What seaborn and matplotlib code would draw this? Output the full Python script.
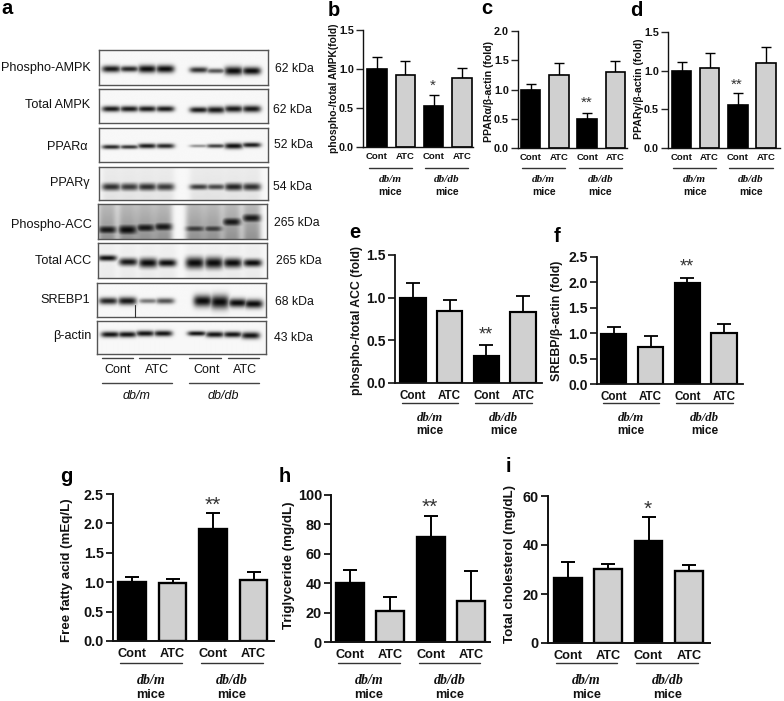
import numpy as np
import pandas as pd
import matplotlib
matplotlib.use("Agg")
import matplotlib.pyplot as plt
from matplotlib.lines import Line2D
import seaborn as sns

W, H = 784, 701

# bar values and the top of each error bar
conditions = ['db/m Cont', 'db/m ATC', 'db/db Cont', 'db/db ATC']
cond_labels = ['Cont', 'ATC', 'Cont', 'ATC']
treatments = ['Cont', 'ATC', 'Cont', 'ATC']

b_vals = [1.0, 0.92, 0.53, 0.88]
b_tops = [1.15, 1.10, 0.67, 1.01]
c_vals = [1.0, 1.25, 0.50, 1.30]
c_tops = [1.10, 1.46, 0.60, 1.49]
d_vals = [1.0, 1.04, 0.55, 1.10]
d_tops = [1.11, 1.23, 0.71, 1.31]
e_vals = [1.0, 0.84, 0.32, 0.83]
e_tops = [1.17, 0.97, 0.44, 1.02]
f_vals = [0.99, 0.73, 1.98, 1.00]
f_tops = [1.13, 0.94, 2.08, 1.18]
g_vals = [1.01, 0.98, 1.91, 1.04]
g_tops = [1.09, 1.06, 2.17, 1.17]
h_vals = [40, 21, 71.5, 28]
h_tops = [49, 30.5, 85.5, 48]
i_vals = [26.5, 30.3, 41.8, 29.2]
i_tops = [33, 32.3, 51.5, 32]

ticks_15 = [0.0, 0.5, 1.0, 1.5]
ticks_20 = [0.0, 0.5, 1.0, 1.5, 2.0]
ticks_25 = [0.0, 0.5, 1.0, 1.5, 2.0, 2.5]
ticks_100 = [0, 20, 40, 60, 80, 100]
ticks_60 = [0, 20, 40, 60]

# western blot: band row, half height and darkness per lane
blot_names = ['Phospho-AMPK', 'Total AMPK', 'PPARα', 'PPARγ', 'Phospho-ACC', 'Total ACC', 'SREBP1', 'β-actin']
blot_sizes = ['62 kDa', '62 kDa', '52 kDa', '54 kDa', '265 kDa', '265 kDa', '68 kDa', '43 kDa']
blot_rows = [
    [69, 69, 69, 69, 70, 71, 71, 71],
    [109, 109, 109, 109, 110, 110, 109, 109],
    [147, 147, 146, 146, 146, 146, 146, 145],
    [187, 187, 187, 187, 187, 187, 187, 187],
    [230, 230, 228, 227, 229, 229, 222, 218],
    [258, 262, 263, 263, 263, 263, 263, 263],
    [301, 301, 301, 301, 301, 302, 303, 304],
    [335, 335, 334, 334, 334, 335, 335, 336],
]
blot_half = [
    [3.5, 3, 4, 4, 3, 2.5, 4.5, 4],
    [3, 3, 3, 3, 3, 3.5, 3.5, 3.5],
    [2.2, 2, 2.5, 2.5, 1.5, 2, 3, 2.5],
    [4, 4, 4, 4, 3, 3, 4, 4],
    [5, 6, 5, 5, 4, 4, 5, 5],
    [3, 4, 5, 4, 6, 6, 5, 4],
    [3.5, 4, 2.5, 3, 6, 7, 4.5, 4.5],
    [3, 3, 3, 3, 2.5, 3, 3, 3.5],
]
blot_dark = [
    [0.95, 0.9, 1, 1, 0.85, 0.7, 1, 1],
    [0.95, 0.95, 0.95, 0.95, 0.95, 0.95, 0.95, 0.95],
    [0.9, 0.85, 0.95, 0.9, 0.45, 0.8, 1, 0.95],
    [0.85, 0.8, 0.85, 0.8, 0.8, 0.75, 0.9, 0.85],
    [0.95, 1, 0.95, 0.95, 0.8, 0.8, 0.95, 0.95],
    [1, 0.95, 1, 1, 1, 1, 1, 1],
    [0.9, 0.95, 0.55, 0.7, 1, 1, 1, 1],
    [0.95, 0.95, 0.95, 0.95, 0.95, 0.95, 0.95, 0.95],
]
blot_haze = [0.0, 0.0, 0.0, 0.08, 0.4, 0.05, 0.0, 0.0]

# blot frames in pixels: left, right, top, bottom and lane centres
blot_frames = [(99, 268, 50, 85), (99, 268, 89, 123), (99, 268, 128, 162), (99, 268, 167, 200),
               (98, 267, 204, 239), (98, 267, 243, 278), (97, 266, 283, 317), (97, 266, 321, 354)]
lanes_a = [111, 129, 147, 165, 199, 216, 234, 252]
lanes_acc = [107, 127, 145, 163, 195, 213, 232, 252]
lanes_tacc = [107, 128, 148, 167, 195, 214, 233, 253]
lanes_sre = [108, 127, 148, 165, 203, 220, 238, 254]
lanes_act = [110, 127, 145, 163, 197, 215, 233, 251]
blot_lanes = [lanes_a, lanes_a, lanes_a, lanes_a, lanes_acc, lanes_tacc, lanes_sre, lanes_act]
name_pos = [(91, 68), (90, 105), (88, 147), (90, 183), (92, 225), (91, 261), (90, 300), (92, 336)]
size_pos = [(275, 69), (273, 110), (274, 145), (273, 187), (274, 223), (276, 261), (275, 302), (274, 338)]

sns.set_style("ticks")
plt.rcParams['font.family'] = ['Liberation Sans', 'DejaVu Sans']

fig = plt.figure(figsize=(W / 100, H / 100), dpi=100)


def ftext(px, py, s, **kw):
    kw.setdefault('ha', 'center')
    kw.setdefault('va', 'center')
    kw.setdefault('color', '#111111')
    return fig.text(px / W, 1 - py / H, s, **kw)


def fline(x0, x1, py, color='#333333', lw=0.9):
    fig.add_artist(Line2D([x0 / W, x1 / W], [1 - py / H, 1 - py / H], color=color, lw=lw))


def draw_blot(frame, lanes, rows, half, dark, haze):
    x0, x1, y0, y1 = frame
    xx, yy = np.meshgrid(np.arange(x0, x1 + 1), np.arange(y0, y1 + 1))
    img = np.full(xx.shape, 0.97)
    for lx, ly, hh, dd in zip(lanes, rows, half, dark):
        across = np.exp(-((xx - lx) / 9.5) ** 4)
        img = img - haze * across * (0.6 + 0.4 * (yy - y0) / (y1 - y0))
        band = dd * across * np.exp(-((yy - ly) / hh) ** 2)
        img = np.minimum(img, 0.97 - 0.93 * band)
    ax = fig.add_axes([x0 / W, 1 - y1 / H, (x1 - x0) / W, (y1 - y0) / H])
    ax.imshow(np.clip(img, 0, 1), cmap='gray', vmin=0, vmax=1, aspect='auto',
              interpolation='bilinear', extent=[x0, x1, y1, y0])
    ax.set_xticks([])
    ax.set_yticks([])
    for sp in ax.spines.values():
        sp.set_color('#555555')
        sp.set_linewidth(1.0)
    return ax


def draw_panel(box, c0, step, vals, tops, ymax, yticks, ylabel, label_pos, label_size,
               tick_size, cont_size, lw, star=None, group=None):
    spine_x, right_x, top_y, bot_y = box
    ax = fig.add_axes([spine_x / W, 1 - bot_y / H, (right_x - spine_x) / W, (bot_y - top_y) / H])
    df = pd.DataFrame({'condition': conditions, 'value': vals, 'treatment': treatments})
    errs = [t - v for t, v in zip(tops, vals)]
    ax.errorbar(range(4), vals, yerr=[[0] * 4, errs], fmt='none', ecolor='black',
                elinewidth=lw, capsize=step * 0.13, capthick=lw, zorder=1)
    sns.barplot(data=df, x='condition', y='value', hue='treatment', dodge=False,
                palette={'Cont': 'black', 'ATC': '#D0D0D0'}, edgecolor='black', linewidth=lw * 1.2,
                width=0.69, errorbar=None, legend=False, ax=ax, zorder=2)
    ax.set_xlim((spine_x - c0) / step, (right_x - c0) / step)
    ax.set_ylim(0, ymax)
    ax.set_yticks(yticks)
    if isinstance(yticks[0], float):
        ax.set_yticklabels([f'{t:.1f}' for t in yticks])
    ax.set_xticks(range(4))
    ax.set_xticklabels(cond_labels)
    ax.tick_params(axis='x', length=0, pad=tick_size * 0.5, labelsize=cont_size)
    ax.tick_params(axis='y', length=5, width=lw, pad=1.5, labelsize=tick_size)
    for t in ax.get_xticklabels() + ax.get_yticklabels():
        t.set_fontweight('bold')
        t.set_color('#111111')
    sns.despine(ax=ax)
    ax.spines['left'].set_linewidth(lw)
    ax.spines['bottom'].set_linewidth(lw)
    ax.spines['left'].set_color('#111111')
    ax.spines['bottom'].set_color('#111111')
    ax.patch.set_alpha(0)
    ax.set_xlabel('')
    ax.set_ylabel(ylabel, fontsize=label_size, fontweight='bold', color='#111111', va='center')
    ax.yaxis.set_label_coords(label_pos[0] / W, 1 - label_pos[1] / H, transform=fig.transFigure)

    # group lines and mouse strain names under the axis
    line_y, strain_y, mice_y, strain_size, mice_size = group
    for k, name in enumerate(['db/m', 'db/db']):
        left = c0 + step * (2 * k) - step * 0.3
        right = c0 + step * (2 * k + 1) + step * 0.23
        fline(left, right, line_y, color='#333333', lw=1.0)
        mid = (left + right) / 2
        ftext(mid, strain_y, name, fontsize=strain_size, fontweight='bold', style='italic',
              family='Liberation Serif')
        ftext(mid, mice_y, 'mice', fontsize=mice_size, fontweight='bold')
    if star:
        ftext(star[0], star[1], star[2], fontsize=star[3], color='#333333')
    return ax


# panel a, the blots
for k in range(8):
    draw_blot(blot_frames[k], blot_lanes[k], blot_rows[k], blot_half[k], blot_dark[k], blot_haze[k])
    ftext(name_pos[k][0], name_pos[k][1], blot_names[k], ha='right', fontsize=9.1)
    ftext(size_pos[k][0], size_pos[k][1], blot_sizes[k], ha='left', fontsize=8.8)
fig.add_artist(Line2D([135 / W, 135 / W], [1 - 305 / H, 1 - 317 / H], color='#333333', lw=0.8))

for x0, x1 in [(102, 133), (139, 170), (189, 221), (228, 259)]:
    fline(x0, x1, 358, color='#444444', lw=1.0)
for px, s in zip([118, 157, 207, 245], cond_labels):
    ftext(px, 370, s, fontsize=9)
fline(102, 172, 383, color='#444444', lw=1.0)
fline(189, 259, 383, color='#444444', lw=1.0)
ftext(137, 396, 'db/m', fontsize=9, style='italic')
ftext(223, 396, 'db/db', fontsize=9, style='italic')

# panels b to i
draw_panel((363, 473, 30, 147), 377, 28.3, b_vals, b_tops, 1.5, ticks_15, 'phospho-/total AMPK(fold)',
           (334, 88), 7.4, 7.8, 6.8, 1.0, star=(433, 86, '*', 11), group=(168, 180, 192, 8, 7.4))
draw_panel((518, 627, 31, 148), 530.7, 28.2, c_vals, c_tops, 2.0, ticks_20, 'PPARα/β-actin (fold)',
           (489, 91), 7.6, 7.8, 6.8, 1.0, star=(587, 103, '**', 11), group=(168, 180, 192, 8, 7.4))
draw_panel((668, 780, 32, 148), 681.5, 28.2, d_vals, d_tops, 1.5, ticks_15, 'PPARγ/β-actin (fold)',
           (639, 89), 7.6, 7.8, 6.8, 1.0, star=(737, 85, '**', 11), group=(168, 180, 192, 8, 7.4))
draw_panel((395, 542, 255, 383), 413, 36.7, e_vals, e_tops, 1.5, ticks_15, 'phospho-/total ACC (fold)',
           (357, 320), 8.8, 10, 8.4, 1.3, star=(486, 335, '**', 13), group=(403, 418, 431, 9.2, 8.6))
draw_panel((597, 743, 257, 384), 613.7, 36.8, f_vals, f_tops, 2.5, ticks_25, 'SREBP/β-actin (fold)',
           (557, 321), 8.8, 10, 8.4, 1.3, star=(687, 267, '**', 13), group=(403, 418, 431, 9.2, 8.6))
draw_panel((113, 274, 494, 641), 132, 40.5, g_vals, g_tops, 2.5, ticks_25, 'Free fatty acid (mEq/L)',
           (67, 570), 9.6, 10.4, 9.2, 1.4, star=(213, 505, '**', 15), group=(663, 680, 695, 10, 9.2))
draw_panel((331, 490, 495, 642), 350, 40.3, h_vals, h_tops, 100, ticks_100, 'Triglyceride (mg/dL)',
           (289, 565), 9.6, 10.4, 9.2, 1.4, star=(430, 507, '**', 15), group=(663, 680, 695, 10, 9.2))
draw_panel((548, 710, 496, 643), 567.7, 40.4, i_vals, i_tops, 60, ticks_60, 'Total cholesterol (mg/dL)',
           (510, 564), 9.6, 10.4, 9.2, 1.4, star=(648, 509, '*', 15), group=(663, 680, 695, 10, 9.2))

# panel letters
for s, px, py in [('a', 7, 9), ('b', 334, 11), ('c', 487, 8), ('d', 636, 10), ('e', 355, 232),
                  ('f', 557, 236), ('g', 66, 476), ('h', 285, 477), ('i', 508, 467)]:
    ftext(px, py, s, fontsize=14.5, fontweight='bold', color='black')

fig.savefig('out.png', dpi=100)
